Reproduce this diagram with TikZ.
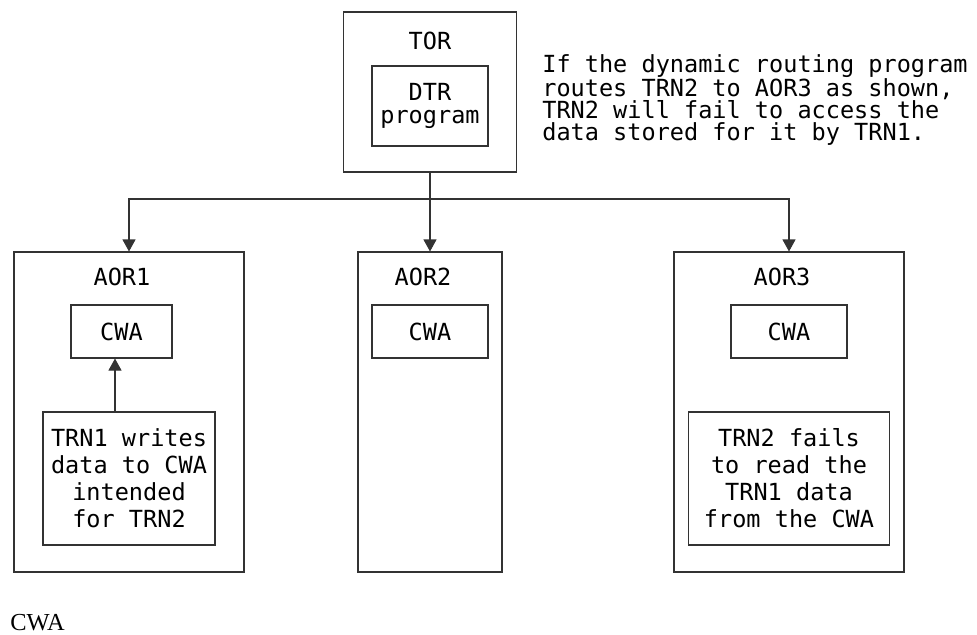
\documentclass[tikz,border=0pt]{standalone}
\usepackage{fontspec}
\setmonofont{DejaVu Sans Mono}
\newfontfamily\capfont{Liberation Serif}
\usepackage{tikz}
\usetikzlibrary{arrows.meta, positioning, calc}
\tikzstyle{regionbox} = [rectangle, draw=black!80, line width=0.6pt, inner sep=0pt]
\tikzstyle{areabox} = [rectangle, draw=black!80, line width=0.6pt, text centered, align=center, font=\ttfamily\fontsize{13.4}{15.4}\selectfont]
\tikzstyle{boxtitle} = [font=\ttfamily\fontsize{13.4}{15.4}\selectfont]
\tikzstyle{arrow} = [draw=black!80, line width=0.6pt, -{Triangle[length=0.24cm,width=0.26cm]}]

\begin{document}
\begin{tikzpicture}[node distance=2cm]
\useasboundingbox (0,0) rectangle (19.54,-12.7);

% terminal-owning region
\node (tor) [regionbox, minimum width=3.46cm, minimum height=3.2cm] at (8.6,-1.84) {};
\node (torlbl) [boxtitle, node distance=1.03cm, above of=tor] {TOR};
\node (dtr) [areabox, minimum width=2.32cm, minimum height=1.6cm, node distance=0.28cm, below of=tor, font=\ttfamily\fontsize{13.4}{13.1}\selectfont] {DTR\\program};
\node (note) [anchor=north west, inner sep=0pt, align=left, font=\ttfamily\fontsize{13.4}{12.5}\selectfont] at (10.84,-1.08) {If the dynamic routing program\\routes TRN2 to AOR3 as shown,\\TRN2 will fail to access the\\data stored for it by TRN1.};

% application-owning regions
\node (aor1) [regionbox, minimum width=4.6cm, minimum height=6.4cm] at (2.58,-8.24) {};
\node (aor2) [regionbox, minimum width=2.88cm, minimum height=6.4cm] at (8.6,-8.24) {};
\node (aor3) [regionbox, minimum width=4.6cm, minimum height=6.4cm] at (15.78,-8.24) {};

\node (aor1lbl) [boxtitle, node distance=2.71cm, above of=aor1, xshift=-0.14cm] {AOR1};
\node (aor2lbl) [boxtitle, node distance=2.71cm, above of=aor2, xshift=-0.14cm] {AOR2};
\node (aor3lbl) [boxtitle, node distance=2.71cm, above of=aor3, xshift=-0.14cm] {AOR3};

\node (cwa1) [areabox, minimum width=2.02cm, minimum height=1.06cm, node distance=1.61cm, above of=aor1, xshift=-0.15cm] {CWA};
\node (cwa2) [areabox, minimum width=2.32cm, minimum height=1.06cm, node distance=1.61cm, above of=aor2] {CWA};
\node (cwa3) [areabox, minimum width=2.32cm, minimum height=1.06cm, node distance=1.61cm, above of=aor3] {CWA};

\node (trn1) [areabox, minimum width=3.44cm, minimum height=2.66cm, node distance=1.33cm, below of=aor1] {TRN1 writes\\data to CWA\\intended\\for TRN2};
\node (trn2) [areabox, minimum width=4.02cm, minimum height=2.66cm, node distance=1.33cm, below of=aor3] {TRN2 fails\\to read the\\TRN1 data\\from the CWA};

\node (caption) [anchor=base west, inner sep=0pt, font=\capfont\fontsize{13.9}{16}\selectfont] at (0.2,-12.6) {CWA};

% routing
\coordinate (bus) at (8.6,-3.98);
\draw [draw=black!80, line width=0.6pt] (tor) -- (bus);
\draw [arrow] (bus) -- (aor2);
\draw [arrow] (bus) -| (aor1);
\draw [arrow] (bus) -| (aor3);
\draw [arrow] ([xshift=-0.28cm]trn1.north) -- ([xshift=-0.28cm]trn1.north |- cwa1.south);
\end{tikzpicture}
\end{document}
